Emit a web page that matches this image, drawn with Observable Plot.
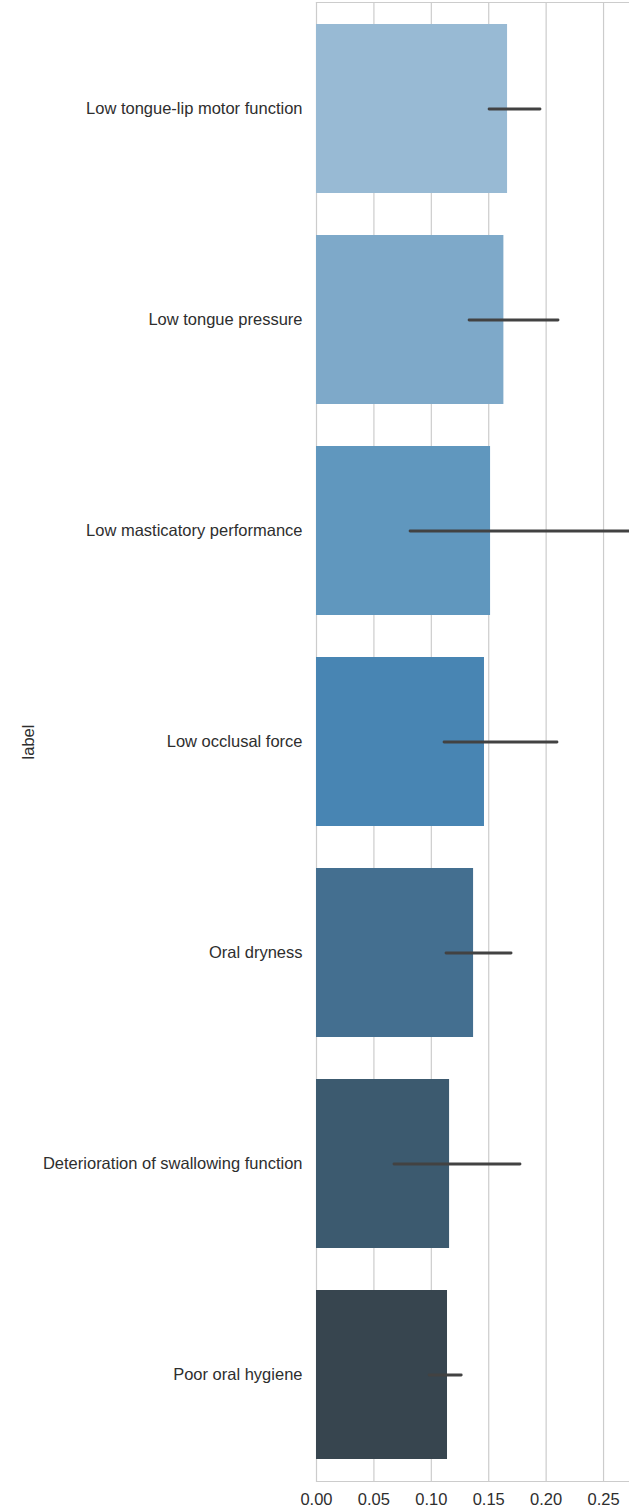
<!DOCTYPE html>
<html>
<head>
<meta charset="utf-8">
<script src="https://cdn.jsdelivr.net/npm/d3@7"></script>
<script src="https://cdn.jsdelivr.net/npm/@observablehq/plot@0.6"></script>
<style>
  html, body { margin: 0; padding: 0; background: #fff; }
  #chart svg { display: block; }
</style>
</head>
<body>
<div id="chart"></div>
<script>
const labels = [
  "Low tongue-lip motor function",
  "Low tongue pressure",
  "Low masticatory performance",
  "Low occlusal force",
  "Oral dryness",
  "Deterioration of swallowing function",
  "Poor oral hygiene"
];
const values = [0.1664, 0.1632, 0.1516, 0.1463, 0.1368, 0.1159, 0.1141];
const ciLow  = [0.1507, 0.1333, 0.0819, 0.1115, 0.1132, 0.0679, 0.0985];
const ciHigh = [0.1951, 0.2108, 0.2740, 0.2099, 0.1699, 0.1777, 0.1265];
const colors = ["#98bad4", "#7ea9c9", "#6097be", "#4885b3", "#446f90", "#3c5a6f", "#37454f"];
const xTicks = [0, 0.05, 0.10, 0.15, 0.20, 0.25];

const data = labels.map((l, i) => ({label: l, value: values[i], lo: ciLow[i], hi: ciHigh[i], color: colors[i]}));

const chart = Plot.plot({
  width: 629,
  height: 1509,
  marginLeft: 316,
  marginRight: 0,
  marginTop: 2,
  marginBottom: 28,
  style: {fontFamily: "Liberation Sans, Arial, sans-serif", fontSize: "16.5px", color: "#2e2e2e", background: "#fff"},
  x: {domain: [0, 0.2726], ticks: xTicks, tickFormat: d3.format(".2f"), tickSize: 0, tickPadding: 12, label: null, grid: false},
  y: {domain: labels, paddingInner: 0.2, paddingOuter: 0.1, tickSize: 0, tickPadding: 14, label: "label", labelAnchor: "center", labelOffset: 294.5},
  marks: [
    Plot.ruleX(xTicks, {stroke: "#cccccc", strokeWidth: 1.2}),
    Plot.frame({anchor: "top", stroke: "#cccccc", strokeWidth: 1.2}),
    Plot.frame({anchor: "bottom", stroke: "#cccccc", strokeWidth: 1.2}),
    Plot.barX(data, {y: "label", x: "value", fill: "color"}),
    Plot.ruleY(data, {y: "label", x1: "lo", x2: "hi", stroke: "#424242", strokeWidth: 2.8, strokeLinecap: "round"})
  ]
});
document.getElementById("chart").appendChild(chart);
</script>
</body>
</html>
